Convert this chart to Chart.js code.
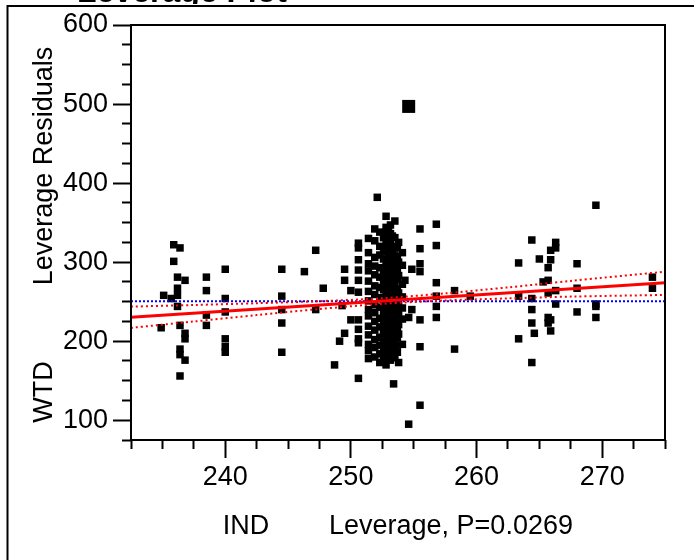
<!DOCTYPE html>
<html>
<head>
<meta charset="utf-8">
<script src="https://cdn.jsdelivr.net/npm/chart.js@4.4.0/dist/chart.umd.min.js"></script>
<style>
  html, body { margin: 0; padding: 0; background: #fff; }
</style>
</head>
<body>
<canvas id="chart" width="694" height="560"></canvas>
<script>
// leverage plot: IND leverage (x) vs WTD leverage residuals (y)
const indLeverage = [
  234.9, 235.1, 235.7, 235.9, 235.9, 236.2, 236.2, 236.2, 236.2,
  236.4, 236.4, 236.4, 236.4, 236.4, 236.8, 236.8, 236.8, 236.8,
  238.5, 238.5, 238.5, 238.5,
  240.0, 240.0, 240.0, 240.0, 240.0, 240.0,
  244.5, 244.5, 244.5, 244.5, 244.5,
  246.3, 247.2, 247.2, 247.8,
  248.7, 249.1, 249.3, 249.5, 249.5, 249.5, 250.0, 250.0,
  250.6, 250.6, 250.6, 250.6, 250.6, 250.6, 250.6, 250.6, 250.6, 250.6, 250.6,
  251.4, 251.4, 251.4, 251.4, 251.4, 251.4, 251.4, 251.4, 251.4, 251.4, 251.4, 251.4, 251.4, 251.4,
  251.9, 251.9, 251.9, 251.9, 251.9, 251.9, 251.9, 251.9, 251.9, 251.9, 251.9, 251.9, 251.9, 251.9,
  252.1,
  252.3, 252.3, 252.3, 252.3, 252.3, 252.3, 252.3, 252.3, 252.3, 252.3, 252.3, 252.3, 252.3, 252.3,
  252.6, 252.6, 252.6, 252.6, 252.6, 252.6, 252.6, 252.6, 252.6, 252.6, 252.6, 252.6, 252.6, 252.6,
  252.6, 252.6,
  252.8, 252.8, 252.8, 252.8, 252.8, 252.8, 252.8, 252.8, 252.8, 252.8, 252.8, 252.8, 252.8, 252.8,
  252.8, 252.8, 252.8, 252.8, 252.8,
  253.0, 253.0, 253.0, 253.0, 253.0, 253.0, 253.0, 253.0, 253.0, 253.0, 253.0, 253.0, 253.0, 253.0,
  253.0, 253.0,
  253.15, 253.15, 253.15, 253.15, 253.15, 253.15, 253.15, 253.15, 253.15, 253.15, 253.15, 253.15,
  253.15, 253.15, 253.15, 253.15, 253.15, 253.15,
  253.3, 253.3, 253.3, 253.3, 253.3, 253.3, 253.3, 253.3, 253.3, 253.3, 253.3, 253.3, 253.3, 253.3,
  253.3,
  253.4,
  253.5, 253.5, 253.5, 253.5, 253.5, 253.5, 253.5, 253.5, 253.5, 253.5, 253.5, 253.5, 253.5, 253.5,
  253.5, 253.5, 253.5,
  253.7, 253.7, 253.7, 253.7, 253.7, 253.7, 253.7, 253.7, 253.7, 253.7, 253.7, 253.7,
  253.8, 253.8, 253.8, 253.8, 253.8, 253.8, 253.8, 253.8, 253.8,
  254.1, 254.1, 254.1, 254.1, 254.1, 254.1, 254.1,
  254.3, 254.6, 254.6, 254.85, 254.85,
  255.5, 255.5, 255.5, 255.5, 255.5, 255.5, 255.5,
  256.8, 256.8, 256.8, 256.8, 256.8, 256.8,
  258.25, 258.25, 259.5,
  263.35, 263.35, 263.35,
  264.4, 264.4, 264.4, 264.4, 264.4, 264.6, 265.0, 265.3,
  265.7, 265.7, 265.7, 265.7, 265.7,
  265.9, 265.9, 265.9, 265.9,
  266.3, 266.3, 266.3, 266.3,
  268.0, 268.0, 268.0,
  269.5, 269.5, 269.5, 269.5,
  274.0, 274.0
];
const wtdResidual = [
  217, 258, 254, 322, 301, 281, 267, 258, 244,
  318, 220, 190, 183, 156, 277, 210, 203, 176,
  281, 264, 233, 220,
  291, 254, 237, 203, 193, 186,
  291, 257, 240, 223, 186,
  288, 315, 240, 267,
  170, 200, 245, 291, 277, 210, 264, 227,
  324, 318, 303, 290, 277, 262, 227, 215, 203, 198, 153,
  330, 312, 298, 289, 276, 263, 251, 240, 232, 219, 208, 196, 188, 178,
  342, 327, 306, 295, 284, 270, 259, 246, 236, 225, 214, 202, 192, 180,
  382,
  338, 320, 309, 293, 281, 268, 255, 243, 229, 218, 205, 195, 184, 173,
  331, 317, 304, 292, 283, 274, 265, 253, 245, 236, 225, 216, 207, 197,
  187, 177,
  358, 344, 335, 322, 313, 300, 289, 280, 271, 262, 250, 241, 232, 222,
  211, 199, 189, 181, 170,
  340, 325, 311, 298, 288, 277, 268, 258, 246, 237, 227, 219, 209, 202,
  192, 183,
  347, 336, 327, 316, 304, 296, 285, 275, 266, 257, 248, 238,
  229, 217, 206, 194, 186, 176,
  333, 320, 310, 293, 281, 271, 262, 254, 240, 231, 223, 212, 204, 196,
  185,
  146,
  352, 331, 318, 308, 298, 287, 278, 269, 259, 251, 244, 234, 226, 213,
  201, 190, 179,
  318, 307, 292, 278, 266, 255, 240, 230, 217, 205, 195, 186,
  173, 325, 300, 283, 261, 247, 236, 221, 209,
  312, 296, 272, 256, 242, 228, 196,
  277, 230, 95, 291, 240,
  342, 317, 298, 288, 227, 193, 119,
  348, 321, 274, 257, 244, 230,
  264, 190, 257,
  299, 257, 203,
  328, 254, 240, 223, 173, 210, 304, 275,
  293, 277, 261, 230, 223,
  315, 303, 227, 213,
  325, 318, 264, 247,
  298, 267, 237,
  372, 247, 244, 230,
  281, 267
];
// the one large marker
const bigX = [254.6];
const bigY = [497];

// fitted line, mean line and confidence curves
const fitX = [232.5, 275];
const fitY = [230.2, 274.0];
const meanX = [232.5, 275];
const meanY = [250.5, 250.5];
const bandX = [232.5, 237.5, 242.5, 247.5, 252.5, 257.5, 262.5, 267.5, 275];
const bandUpper = [243.7, 245.8, 248.0, 250.6, 254.3, 260.5, 268.1, 276.2, 288.0];
const bandLower = [216.9, 224.9, 233.0, 240.7, 247.3, 251.5, 254.1, 256.4, 258.5];

const xLabels = [240, 250, 260, 270];
const yLabels = [100, 200, 300, 400, 500, 600];

const FONT = '"Liberation Sans", Arial, sans-serif';

function pts(xs, ys) {
  return xs.map((x, i) => ({ x: x, y: ys[i] }));
}

const frameAndTitles = {
  id: 'frameAndTitles',
  beforeDraw(chart) {
    const c = chart.ctx;
    c.save();
    c.fillStyle = '#fff';
    c.fillRect(0, 0, chart.width, chart.height);
    c.strokeStyle = '#000';
    c.lineWidth = 2;
    c.beginPath();
    c.moveTo(7.5, 570);
    c.lineTo(7.5, 6);
    c.lineTo(700, 6);
    c.stroke();
    // title sits above the top edge, only its bottom few pixels show
    c.beginPath();
    c.rect(0, 0, chart.width, 4);
    c.clip();
    c.fillStyle = '#000';
    c.font = 'bold 32px ' + FONT;
    c.textBaseline = 'alphabetic';
    c.textAlign = 'left';
    c.fillText('Leverage Plot', 77, 1.5);
    c.restore();
  },
  afterDraw(chart) {
    const c = chart.ctx;
    const a = chart.chartArea;
    c.save();
    c.strokeStyle = '#000';
    c.lineWidth = 2;
    c.strokeRect(a.left, a.top, a.right - a.left, a.bottom - a.top);

    c.fillStyle = '#000';
    c.font = '27px ' + FONT;
    c.textBaseline = 'alphabetic';
    // y titles
    c.textAlign = 'center';
    c.save();
    c.translate(52, 166);
    c.rotate(-Math.PI / 2);
    c.fillText('Leverage Residuals', 0, 0);
    c.restore();
    c.save();
    c.translate(52, 392);
    c.rotate(-Math.PI / 2);
    c.fillText('WTD', 0, 0);
    c.restore();
    // x titles
    c.fillText('IND', 246, 534);
    c.textAlign = 'left';
    c.fillText('Leverage, P=0.0269', 329, 534);
    c.restore();
  }
};

function isMajor(v, step) {
  const r = Math.abs(v % step);
  return r < 1e-6 || Math.abs(r - step) < 1e-6;
}

new Chart(document.getElementById('chart'), {
  type: 'scatter',
  data: {
    datasets: [
      {
        data: pts(fitX, fitY),
        showLine: true,
        borderColor: '#ff0000',
        borderWidth: 3,
        pointRadius: 0,
        order: 0
      },
      {
        data: pts(bandX, bandUpper),
        showLine: true,
        borderColor: '#ff0000',
        borderWidth: 2,
        borderDash: [2, 3],
        tension: 0.3,
        pointRadius: 0,
        order: 1
      },
      {
        data: pts(bandX, bandLower),
        showLine: true,
        borderColor: '#ff0000',
        borderWidth: 2,
        borderDash: [2, 3],
        tension: 0.3,
        pointRadius: 0,
        order: 1
      },
      {
        data: pts(meanX, meanY),
        showLine: true,
        borderColor: '#0000ff',
        borderWidth: 2,
        borderDash: [2, 2],
        pointRadius: 0,
        order: 2
      },
      {
        data: pts(indLeverage, wtdResidual),
        pointStyle: 'rect',
        pointRadius: 5.3,
        backgroundColor: '#000',
        borderColor: '#000',
        borderWidth: 0,
        order: 5
      },
      {
        data: pts(bigX, bigY),
        pointStyle: 'rect',
        pointRadius: 9.2,
        backgroundColor: '#000',
        borderColor: '#000',
        borderWidth: 0,
        order: 5
      }
    ]
  },
  options: {
    responsive: false,
    animation: false,
    layout: { padding: { top: 25, right: 29, bottom: 0, left: 0 } },
    plugins: { legend: { display: false }, tooltip: { enabled: false } },
    scales: {
      x: {
        type: 'linear',
        min: 232.5,
        max: 275,
        afterFit: s => { s.height = 120; },
        border: { display: false },
        grid: {
          drawOnChartArea: false,
          drawTicks: true,
          tickLength: 18,
          tickWidth: 2,
          tickColor: '#000',
          tickBorderDash: ctx => (ctx.tick && isMajor(ctx.tick.value, 10)) ? [] : [9, 40]
        },
        ticks: {
          stepSize: 2.5,
          autoSkip: false,
          maxRotation: 0,
          padding: 3,
          color: '#000',
          font: { family: FONT, size: 27 },
          callback: v => xLabels.includes(v) ? String(v) : ''
        }
      },
      y: {
        type: 'linear',
        min: 75,
        max: 600,
        afterFit: s => { s.width = 131; },
        border: { display: false },
        grid: {
          drawOnChartArea: false,
          drawTicks: true,
          tickLength: 18,
          tickWidth: 2,
          tickColor: '#000',
          tickBorderDash: ctx => (ctx.tick && isMajor(ctx.tick.value, 100)) ? [] : [0, 9, 9, 40]
        },
        ticks: {
          stepSize: 25,
          autoSkip: false,
          padding: 5,
          color: '#000',
          font: { family: FONT, size: 27 },
          callback: v => yLabels.includes(v) ? String(v) : ''
        }
      }
    }
  },
  plugins: [frameAndTitles]
});
</script>
</body>
</html>
